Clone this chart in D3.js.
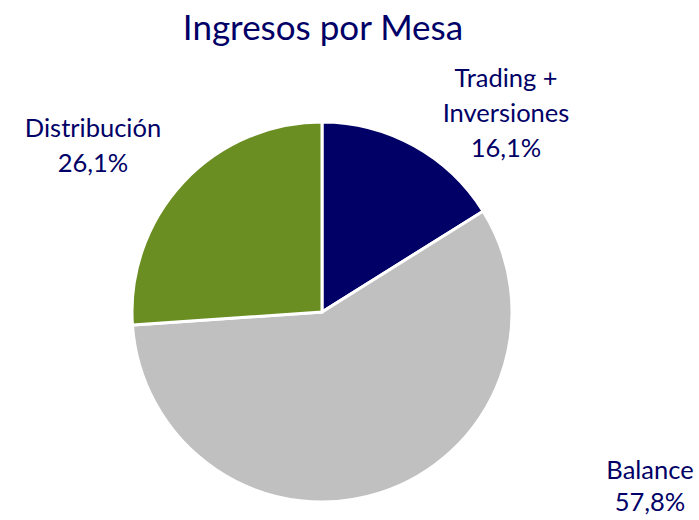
<!DOCTYPE html>
<html>
<head>
<meta charset="utf-8">
<script src="https://cdn.jsdelivr.net/npm/d3@7"></script>
<style>
  body { margin: 0; background: #fff; }
  text { font-family: Lato, "Open Sans", sans-serif; fill: #000066; }
</style>
</head>
<body>
<div id="chart"></div>
<script>
// chart data
var categories = ["Trading + Inversiones", "Balance", "Distribución"];
var shares = [16.1, 57.8, 26.1];
var labelLines = [["Trading +", "Inversiones", "16,1%"], ["Balance", "57,8%"], ["Distribución", "26,1%"]];
var colors = ["#000066", "#c0c0c0", "#6b8e23"];

var svgWidth = 699;
var svgHeight = 520;
var radius = 190;

var svg = d3.select("#chart")
  .append("svg")
  .attr("width", svgWidth)
  .attr("height", svgHeight);

// title
svg.append("text")
  .attr("x", 323)
  .attr("y", 40)
  .attr("text-anchor", "middle")
  .attr("font-size", 35)
  .text("Ingresos por Mesa");

var pieGroup = svg.append("g")
  .attr("transform", "translate(322, 312)");

var pie = d3.pie().sort(null).value(d => d);
var arc = d3.arc().innerRadius(0).outerRadius(radius);

var slices = pie(shares);

pieGroup.selectAll("path")
  .data(slices)
  .enter()
  .append("path")
  .attr("d", arc)
  .attr("fill", (d, i) => colors[i])
  .attr("stroke", "#fff")
  .attr("stroke-width", 3);

// label positions outside the pie (relative to center)
var labelPos = [[184, -225], [328, 167], [-229, -175]];
var lineHeight = 35;

slices.forEach(function(d, i) {
  var t = pieGroup.append("text")
    .attr("text-anchor", "middle")
    .attr("font-size", 25.5);
  labelLines[i].forEach(function(line, j) {
    t.append("tspan")
      .attr("x", labelPos[i][0])
      .attr("y", labelPos[i][1] + j * (i === 1 ? 32 : lineHeight))
      .text(line);
  });
});
</script>
</body>
</html>
